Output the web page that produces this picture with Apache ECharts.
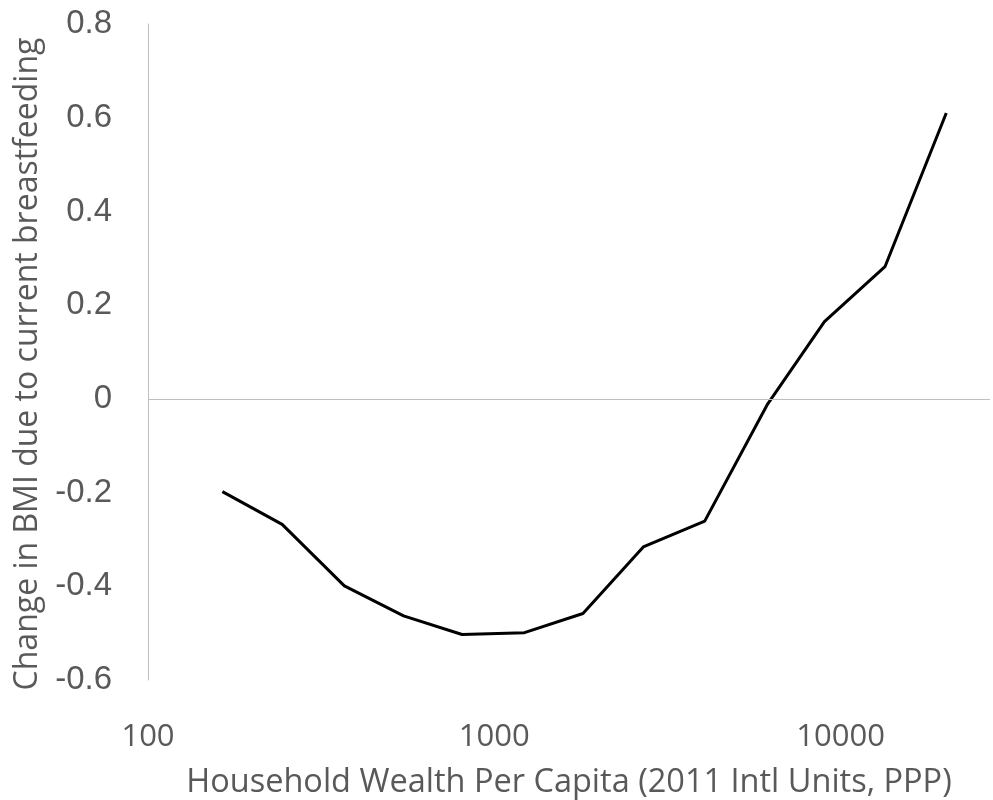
<!DOCTYPE html>
<html>
<head>
<meta charset="utf-8">
<script src="https://cdn.jsdelivr.net/npm/echarts@6/dist/echarts.min.js"></script>
<style>html,body{margin:0;padding:0;background:#fff}#c{width:993px;height:800px}</style>
</head>
<body>
<div id="c"></div>
<script>
const wealth = [164, 244, 369, 547, 807, 1222, 1803, 2693, 4051, 6133, 8981, 13430, 20190];
const bmiChange = [-0.198, -0.268, -0.399, -0.463, -0.503, -0.499, -0.458, -0.316, -0.261, -0.013, 0.165, 0.282, 0.610];
const xTitle = 'Household Wealth Per Capita (2011 Intl Units, PPP)';
const yTitle = 'Change in BMI due to current breastfeeding';

const chart = echarts.init(document.getElementById('c'), null, {renderer: 'canvas'});
chart.setOption({
  animation: false,
  grid: {left: 148, right: 3, top: 24, bottom: 120, containLabel: false, outerBoundsMode: 'none'},
  xAxis: {
    type: 'log', logBase: 10, min: 100, max: 27000,
    name: xTitle, nameLocation: 'middle', nameGap: 86,
    nameTextStyle: {fontFamily: 'Open Sans', fontSize: 32.5, color: '#595959'},
    axisLine: {show: false, onZero: false},
    axisTick: {show: false},
    splitLine: {show: false},
    axisLabel: {fontFamily: 'Open Sans', fontSize: 31, color: '#595959', margin: 42, showMaxLabel: false,
      formatter: v => String(Math.round(v))}
  },
  yAxis: {
    type: 'value', min: -0.6, max: 0.8, interval: 0.2,
    name: yTitle, nameLocation: 'middle', nameGap: 100,
    nameTextStyle: {fontFamily: 'Open Sans', fontSize: 32, color: '#595959', padding: [0, 24, 0, 0]},
    axisLine: {show: true, lineStyle: {color: '#bfbfbf', width: 1}},
    axisTick: {show: false},
    splitLine: {show: false},
    axisLabel: {fontFamily: 'Liberation Sans', fontSize: 33, color: '#595959', margin: 36,
      formatter: v => (Math.abs(v) < 1e-9 ? '0' : (Math.round(v * 10) / 10).toString())}
  },
  series: [{
    type: 'line',
    data: wealth.map((w, i) => [w, bmiChange[i]]),
    symbol: 'none',
    lineStyle: {color: '#000', width: 3},
    markLine: {
      silent: true, symbol: 'none', label: {show: false},
      lineStyle: {color: '#bfbfbf', width: 1, type: 'solid'},
      data: [{yAxis: 0}]
    }
  }]
});
</script>
</body>
</html>
